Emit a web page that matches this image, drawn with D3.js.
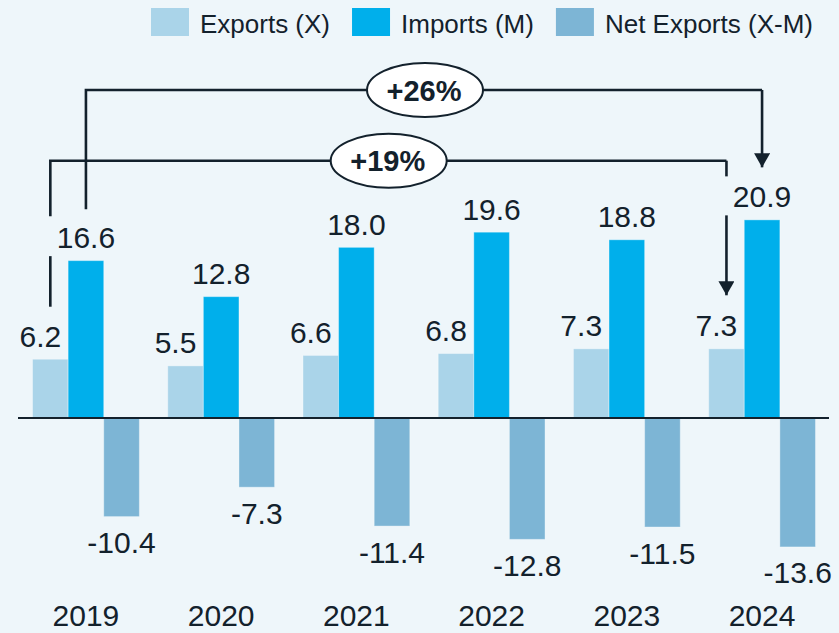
<!DOCTYPE html>
<html>
<head>
<meta charset="utf-8">
<script src="https://cdn.jsdelivr.net/npm/d3@7"></script>
<style>
  html, body { margin: 0; padding: 0; background: #eef6fa; }
  svg { display: block; font-family: "Liberation Sans", Arial, Helvetica, sans-serif; }
</style>
</head>
<body>
<svg id="chart" width="839" height="633"></svg>
<script>
// Trade balance, 2019–2024
const years = ["2019", "2020", "2021", "2022", "2023", "2024"];
const exportsX = [6.2, 5.5, 6.6, 6.8, 7.3, 7.3];
const importsM = [16.6, 12.8, 18.0, 19.6, 18.8, 20.9];
const netXM = [-10.4, -7.3, -11.4, -12.8, -11.5, -13.6];
const seriesNames = ["Exports (X)", "Imports (M)", "Net Exports (X-M)"];
const seriesColors = ["#aad4e9", "#00afeb", "#7db5d5"];

// Growth brackets: from one year's bar to another year's bar of the same series
const growthNotes = [
  { label: "+26%", series: 1, from: "2019", to: "2024" },
  { label: "+19%", series: 0, from: "2019", to: "2024" }
];

const ink = "#13212c";
const W = 839, H = 633;
const svg = d3.select("#chart");
svg.append("rect").attr("width", W).attr("height", H).attr("fill", "#eef6fa");

const seriesValues = [exportsX, importsM, netXM];

const x = d3.scaleBand().domain(years).range([19, 829]).paddingInner(0.21).paddingOuter(0.1);
const xs = d3.scaleBand().domain(d3.range(3)).range([0, x.bandwidth()]);
const y = d3.scaleLinear().domain([-15, 22]).range([560.2, 209.44]);

const rows = [];
years.forEach((yr, i) => {
  seriesValues.forEach((vals, s) => rows.push({ year: yr, s, v: vals[i] }));
});

// Bars
svg.append("g").selectAll("rect").data(rows).join("rect")
  .attr("x", d => x(d.year) + xs(d.s))
  .attr("width", xs.bandwidth())
  .attr("y", d => y(Math.max(0, d.v)))
  .attr("height", d => Math.abs(y(d.v) - y(0)))
  .attr("fill", d => seriesColors[d.s])
  .attr("stroke", "rgba(255,255,255,0.35)")
  .attr("stroke-width", 1);

// Zero line
svg.append("line")
  .attr("x1", 18).attr("x2", 829)
  .attr("y1", y(0)).attr("y2", y(0))
  .attr("stroke", ink).attr("stroke-width", 2.2);

// Value labels
const labelX = d => x(d.year) + xs(d.s) + xs.bandwidth() / 2 + (d.s === 0 ? -10 : 0);
svg.append("g").selectAll("text").data(rows).join("text")
  .attr("x", labelX)
  .attr("y", d => d.v >= 0 ? y(d.v) - 12.5 : y(d.v) + 36.5)
  .attr("text-anchor", "middle")
  .attr("font-size", 30)
  .attr("fill", ink)
  .text(d => d.v.toFixed(1));

// Year axis labels
svg.append("g").selectAll("text").data(years).join("text")
  .attr("x", d => x(d) + x.bandwidth() / 2)
  .attr("y", 626)
  .attr("text-anchor", "middle")
  .attr("font-size", 30)
  .attr("fill", ink)
  .text(d => d);

// Legend
const legend = svg.append("g");
let lx = 151;
seriesNames.forEach((name, i) => {
  legend.append("rect").attr("x", lx).attr("y", 8).attr("width", 38).attr("height", 28)
    .attr("fill", seriesColors[i]);
  const t = legend.append("text").attr("x", lx + 49).attr("y", 33)
    .attr("font-size", 26).attr("fill", ink).text(name);
  lx += 49 + t.node().getComputedTextLength() + 22;
});

// Arrowhead marker
svg.append("defs").append("marker")
  .attr("id", "arrow").attr("viewBox", "0 0 16 14")
  .attr("refX", 8).attr("refY", 14)
  .attr("markerWidth", 16).attr("markerHeight", 14)
  .attr("markerUnits", "userSpaceOnUse")
  .attr("orient", "0")
  .append("path").attr("d", "M0,0 L16,0 L8,14 Z").attr("fill", ink);

// Growth brackets
const bracketTops = [90, 160.7];
growthNotes.forEach((g, k) => {
  const s = g.series;
  const vals = seriesValues[s];
  const i0 = years.indexOf(g.from), i1 = years.indexOf(g.to);
  const cx0 = x(g.from) + xs(s) + xs.bandwidth() / 2;
  const cx1 = x(g.to) + xs(s) + xs.bandwidth() / 2;
  const top = bracketTops[k];
  const labelBase0 = y(vals[i0]) - 12.5;
  const labelBase1 = y(vals[i1]) - 12.5;
  const cap = 22;
  const grp = svg.append("g").attr("stroke", ink).attr("stroke-width", 2.6).attr("fill", "none");

  // left leg: stops above any label it would cross
  const leftStop = s === 1 ? labelBase0 - cap - 17 : y(importsM[i0]) - 12.5 - cap - 10;
  grp.append("path").attr("d", `M${cx0},${leftStop} V${top} H${cx1}`);
  if (s === 0) {
    // lower piece of the left leg, resuming below the neighbouring label row
    grp.append("line").attr("x1", cx0).attr("x2", cx0)
      .attr("y1", y(importsM[i0]) - 12.5 + 8).attr("y2", labelBase0 - cap - 18);
    // right leg: short drop, break around the neighbouring label, then arrow
    const nb = y(importsM[i1]) - 12.5;
    grp.append("line").attr("x1", cx1).attr("x2", cx1).attr("y1", top).attr("y2", nb - cap - 9);
    grp.append("line").attr("x1", cx1).attr("x2", cx1).attr("y1", nb + 8)
      .attr("y2", labelBase1 - cap - 19).attr("marker-end", "url(#arrow)");
  } else {
    grp.append("line").attr("x1", cx1).attr("x2", cx1).attr("y1", top)
      .attr("y2", labelBase1 - cap - 18).attr("marker-end", "url(#arrow)");
  }

  const ex = k === 0 ? 425 : 388.7;
  svg.append("ellipse").attr("cx", ex).attr("cy", top).attr("rx", 58).attr("ry", 27)
    .attr("fill", "#ffffff").attr("stroke", ink).attr("stroke-width", 2);
  svg.append("text").attr("x", ex - 1).attr("y", top + 10.5)
    .attr("text-anchor", "middle").attr("font-size", 29).attr("font-weight", "bold")
    .attr("fill", ink).text(g.label);
});
</script>
</body>
</html>
